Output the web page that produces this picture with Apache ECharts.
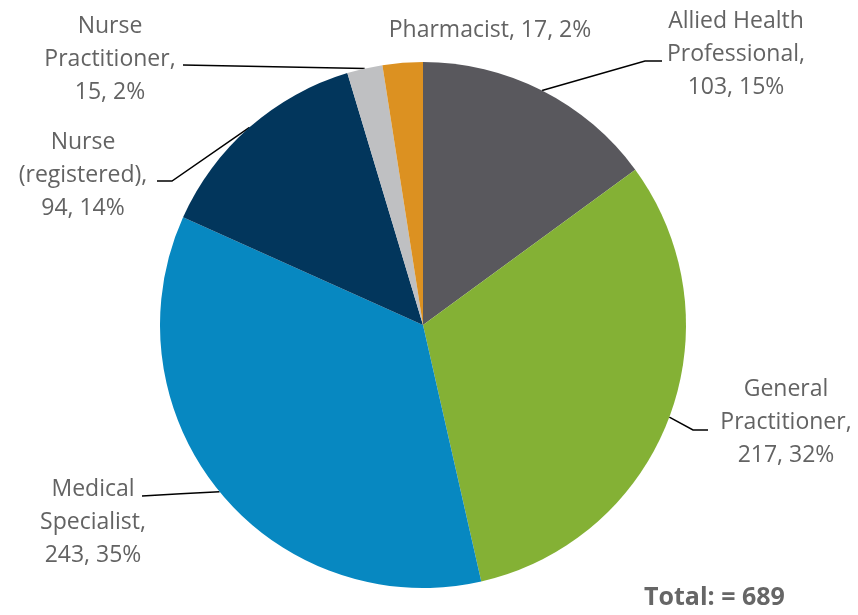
<!DOCTYPE html>
<html>
<head>
<meta charset="utf-8">
<script src="https://cdn.jsdelivr.net/npm/echarts@6/dist/echarts.min.js"></script>
<style>html,body{margin:0;padding:0;background:#fff}#c{width:858px;height:615px}</style>
</head>
<body>
<div id="c"></div>
<script>
// ---- data ----
const categories = ['Allied Health\nProfessional', 'General\nPractitioner', 'Medical\nSpecialist', 'Nurse\n(registered)', 'Nurse\nPractitioner', 'Pharmacist'];
const values = [103, 217, 243, 94, 15, 17];
const totalLabel = 'Total: = ';

// ---- styles / layout ----
const colors = ['#59585d', '#84b135', '#0788c1', '#02365c', '#bfc0c2', '#dc9121'];
const labelLayouts = [
  { cx: 736, cy: 54, ex: 662, ey: 61, elbow: [645, 61] },
  { cx: 786, cy: 422, ex: 708, ey: 430, elbow: [693, 430] },
  { cx: 93, cy: 522, ex: 142, ey: 496, elbow: null },
  { cx: 83, cy: 175, ex: 157, ey: 181, elbow: [172, 181] },
  { cx: 110, cy: 59, ex: 183, ey: 65, elbow: null },
  { cx: 490, cy: 30, ex: null }
];

const total = values.reduce((a, b) => a + b, 0);
const chart = echarts.init(document.getElementById('c'), null, { renderer: 'canvas' });
const font = '"Open Sans", Lato, sans-serif';

chart.setOption({
  animation: false,
  graphic: [{
    type: 'text',
    left: 644, top: 585,
    style: { text: totalLabel + total, font: 'bold 25px ' + font, fill: '#666666' }
  }],
  series: [{
    type: 'pie',
    center: [423, 325],
    radius: [0, 263],
    startAngle: 90,
    clockwise: true,
    percentPrecision: 0,
    avoidLabelOverlap: false,
    itemStyle: { borderWidth: 0 },
    label: {
      show: true,
      formatter: p => p.name + (p.dataIndex === 5 ? ', ' : ',\n') + p.value + ', ' + p.percent + '%',
      fontFamily: font,
      fontSize: 23,
      lineHeight: 33,
      color: '#636363',
      align: 'center'
    },
    labelLine: { show: true, lineStyle: { color: '#000', width: 1.5 } },
    labelLayout: function (params) {
      const L = labelLayouts[params.dataIndex];
      const res = { x: L.cx, y: L.cy, align: 'center', verticalAlign: 'middle' };
      if (L.ex != null && params.labelLinePoints) {
        const p0 = params.labelLinePoints[0];
        const pts = [[p0[0], p0[1]]];
        if (L.elbow) pts.push(L.elbow); else pts.push([(p0[0] + L.ex) / 2, (p0[1] + L.ey) / 2]);
        pts.push([L.ex, L.ey]);
        res.labelLinePoints = pts;
      }
      return res;
    },
    data: values.map((v, i) => ({
      name: categories[i],
      value: v,
      itemStyle: { color: colors[i] },
      labelLine: { show: i !== 5 }
    }))
  }]
});
</script>
</body>
</html>
